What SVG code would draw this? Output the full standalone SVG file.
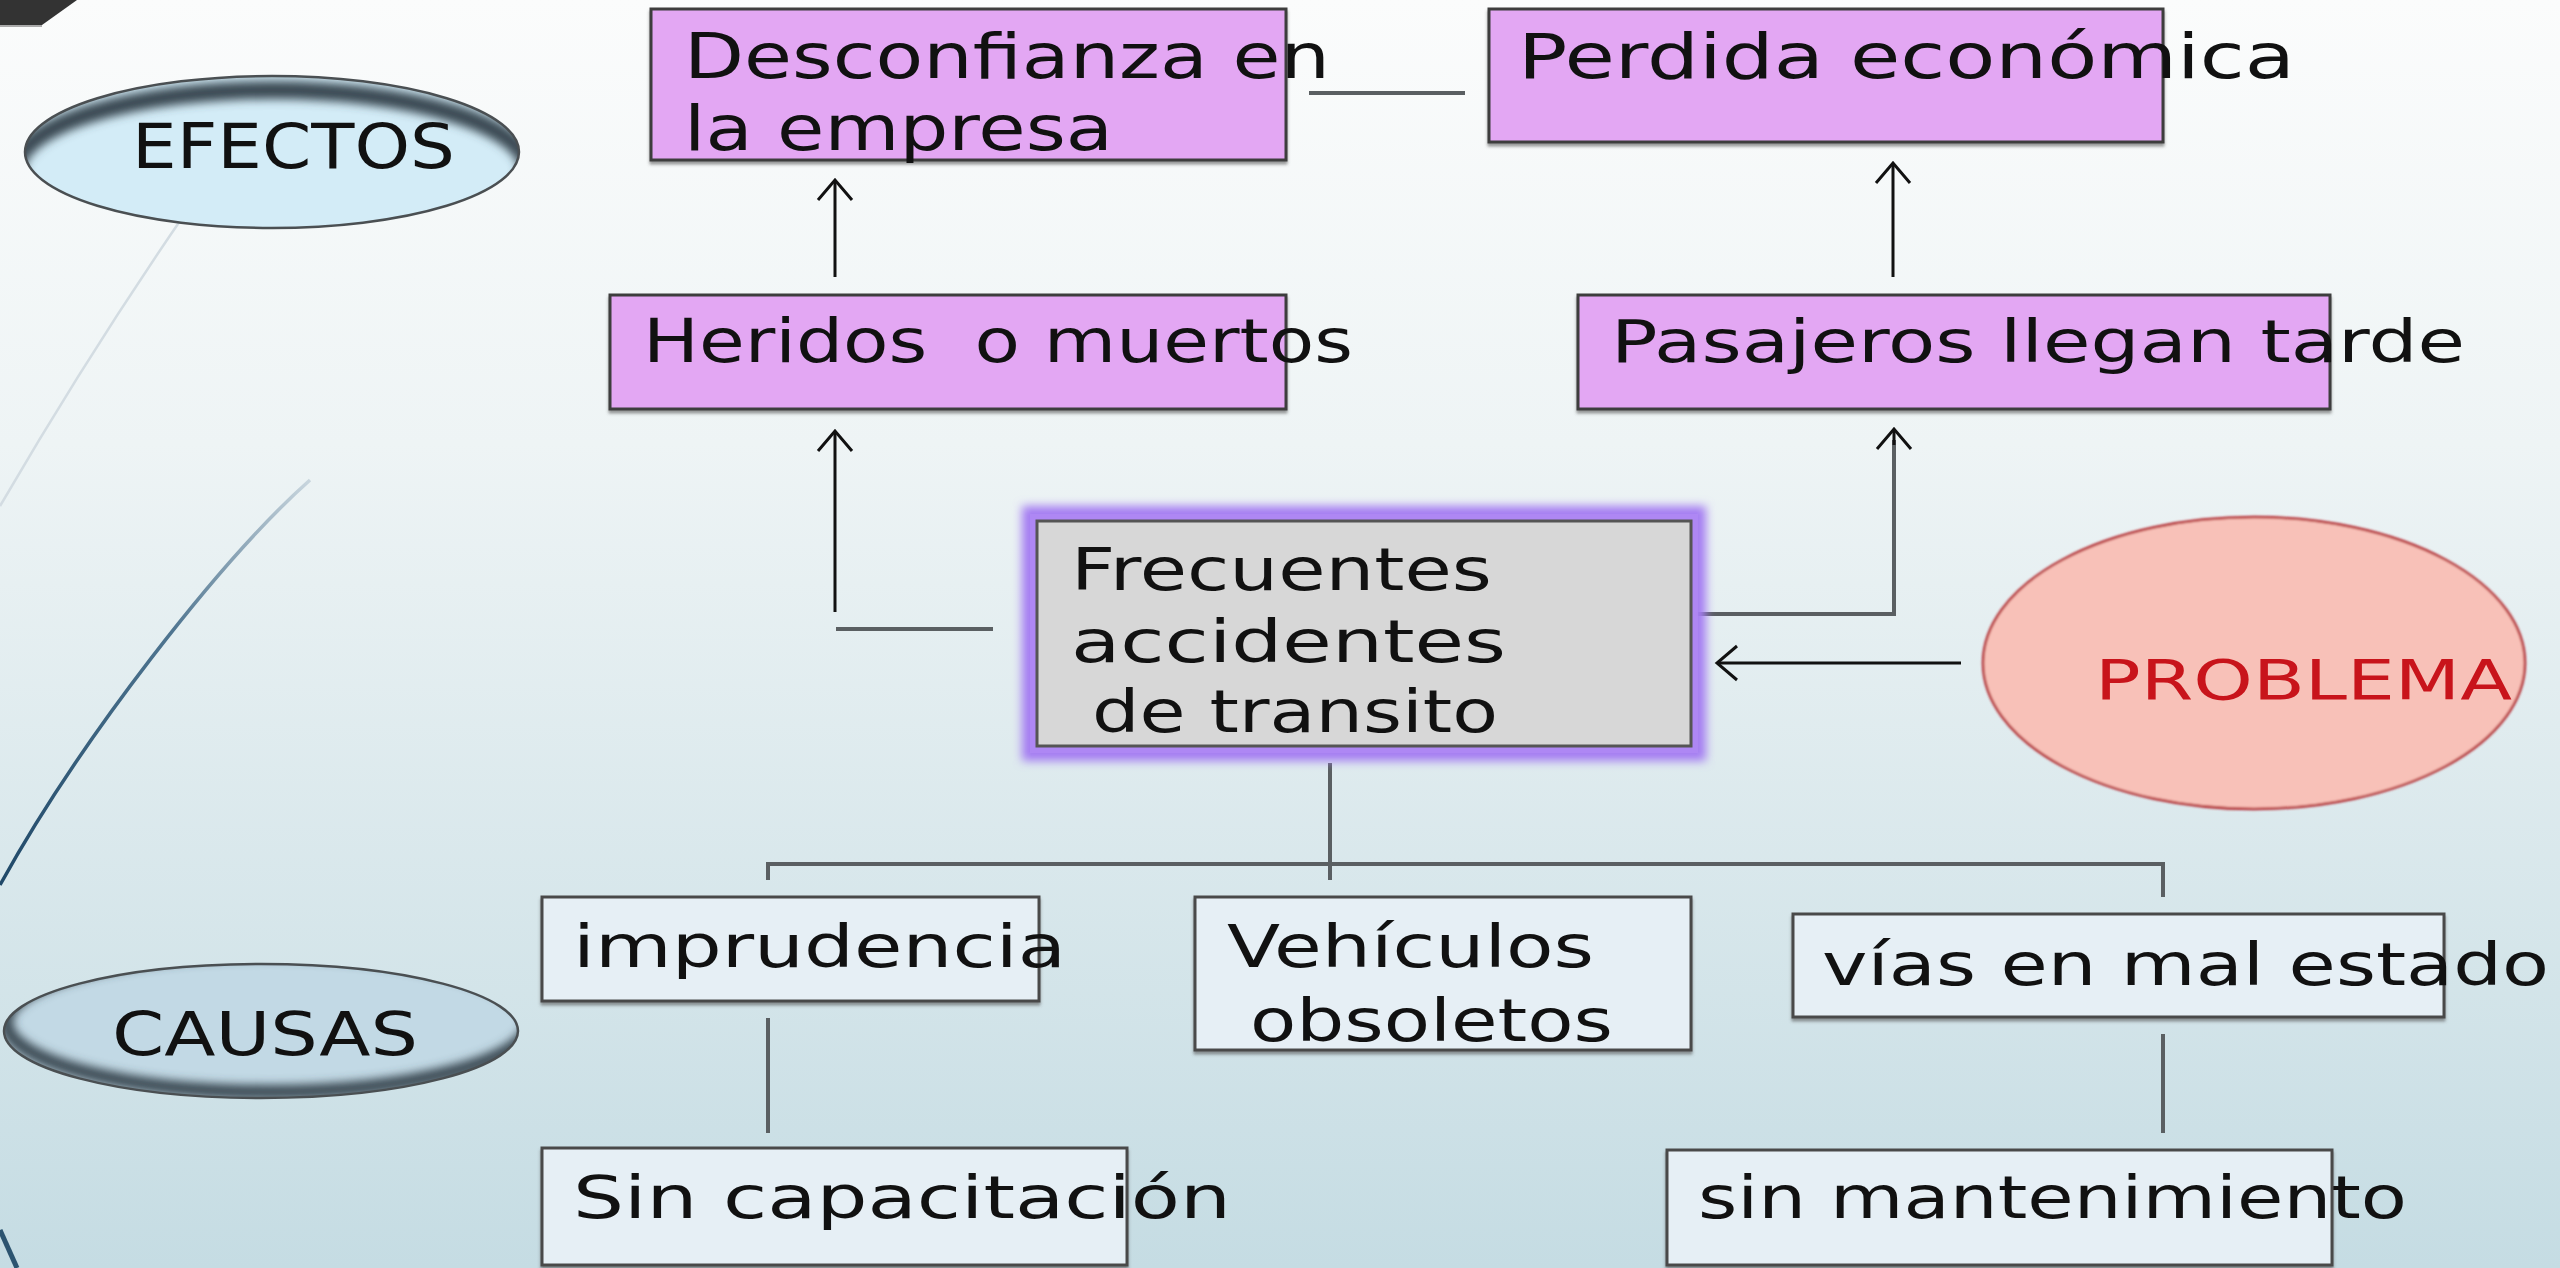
<svg xmlns="http://www.w3.org/2000/svg" width="2560" height="1268" viewBox="0 0 2560 1268">
<defs>
  <linearGradient id="bg" x1="0" y1="0" x2="0" y2="1">
    <stop offset="0" stop-color="#fbfcfc"/>
    <stop offset="0.35" stop-color="#eef4f5"/>
    <stop offset="1" stop-color="#c5dce3"/>
  </linearGradient>
  <linearGradient id="arcGrad" gradientUnits="userSpaceOnUse" x1="310" y1="480" x2="0" y2="885">
    <stop offset="0" stop-color="#c9d6de"/>
    <stop offset="0.4" stop-color="#4f7590"/>
    <stop offset="1" stop-color="#1f4868"/>
  </linearGradient>
  <filter id="shadow" x="-5%" y="-10%" width="110%" height="130%">
    <feDropShadow dx="0" dy="3" stdDeviation="1.5" flood-color="#555" flood-opacity="0.6"/>
  </filter>
  <filter id="glow" x="-20%" y="-30%" width="140%" height="160%">
    <feGaussianBlur stdDeviation="5"/>
  </filter>
  <filter id="soft" x="-20%" y="-30%" width="140%" height="160%">
    <feGaussianBlur stdDeviation="5"/>
  </filter>
  <filter id="softEdge" x="-5%" y="-5%" width="110%" height="110%">
    <feGaussianBlur stdDeviation="1.2"/>
  </filter>
  <clipPath id="clipEf"><ellipse cx="272" cy="152" rx="247" ry="76"/></clipPath>
  <clipPath id="clipCa"><ellipse cx="261" cy="1031" rx="257" ry="67"/></clipPath>
  <marker id="arr" markerUnits="userSpaceOnUse" markerWidth="44" markerHeight="44" viewBox="-24 -22 28 44" refX="0" refY="0" orient="auto">
    <path d="M-20,-17 L0,0 L-20,17" fill="none" stroke="#111" stroke-width="3" stroke-linejoin="miter"/>
  </marker>
  <style>
    .t { font-family: "DejaVu Sans", "Liberation Sans", sans-serif; fill: #111; }
    .eff { fill: #e3a7f3; stroke: #3c3c3c; stroke-width: 3; }
    .cause { fill: #e6eff5; stroke: #4a4a4a; stroke-width: 3; }
    .ln { fill: none; stroke: #5a5f62; stroke-width: 4; }
    .ar { fill: none; stroke: #111; stroke-width: 3; }
  </style>
</defs>

<rect x="0" y="0" width="2560" height="1268" fill="url(#bg)"/>

<g id="decor">
  <polygon points="0,0 77,0 42,25 0,25" fill="#333"/>
  <line x1="0" y1="26" x2="42" y2="26" stroke="#aaa" stroke-width="2"/>
  <path d="M182,218 Q88,355 0,506" fill="none" stroke="#d3dce2" stroke-width="2.5"/>
  <path d="M310,480 C220,560 80,740 0,885" fill="none" stroke="url(#arcGrad)" stroke-width="3.5"/>
  <path d="M0,1230 Q8,1248 17,1268" fill="none" stroke="#2c5470" stroke-width="5"/>
</g>

<g id="connectors">
  <line class="ln" x1="1309" y1="93" x2="1465" y2="93"/>
  <line class="ar" x1="835" y1="277" x2="835" y2="180" marker-end="url(#arr)"/>
  <line class="ar" x1="1893" y1="277" x2="1893" y2="163" marker-end="url(#arr)"/>
  <line class="ln" x1="993" y1="629" x2="836" y2="629"/>
  <line class="ar" x1="835" y1="612" x2="835" y2="431" marker-end="url(#arr)"/>
  <polyline class="ln" points="1692,614 1894,614 1894,440"/>
  <line class="ar" x1="1894" y1="445" x2="1894" y2="429" marker-end="url(#arr)"/>
  <line class="ar" x1="1961" y1="663" x2="1717" y2="663" marker-end="url(#arr)"/>
  <line class="ln" x1="1330" y1="763" x2="1330" y2="880" stroke-width="3"/>
  <polyline class="ln" points="768,880 768,864 2163,864 2163,897"/>
  <line class="ln" x1="768" y1="1018" x2="768" y2="1133" stroke-width="3.5"/>
  <line class="ln" x1="2163" y1="1034" x2="2163" y2="1133" stroke-width="3.5"/>
</g>

<g id="efectos">
  <ellipse cx="272" cy="152" rx="247" ry="76" fill="#d3ecf7"/>
  <g clip-path="url(#clipEf)">
    <ellipse cx="272" cy="170" rx="256" ry="80" fill="none" stroke="#3a4a52" stroke-width="18" filter="url(#soft)"/>
  </g>
  <ellipse cx="272" cy="152" rx="247" ry="76" fill="none" stroke="#4a4f52" stroke-width="2.5"/>
  <text class="t" x="132" y="168" font-size="62" textLength="323" lengthAdjust="spacingAndGlyphs">EFECTOS</text>
</g>

<g id="causas">
  <ellipse cx="261" cy="1031" rx="257" ry="67" fill="#c2d9e5"/>
  <g clip-path="url(#clipCa)">
    <ellipse cx="268" cy="1022" rx="262" ry="70" fill="none" stroke="#3a4a52" stroke-width="14" filter="url(#soft)"/>
  </g>
  <ellipse cx="261" cy="1031" rx="257" ry="67" fill="none" stroke="#4a4f52" stroke-width="2.5"/>
  <text class="t" x="112" y="1055" font-size="60" textLength="306" lengthAdjust="spacingAndGlyphs">CAUSAS</text>
</g>

<g id="desconfianza">
  <rect class="eff" x="651" y="9" width="635" height="151" filter="url(#shadow)"/>
  <text class="t" x="684" y="78" font-size="62" textLength="646" lengthAdjust="spacingAndGlyphs">Desconfianza en</text>
  <text class="t" x="684" y="150" font-size="62" textLength="429" lengthAdjust="spacingAndGlyphs">la empresa</text>
</g>

<g id="perdida">
  <rect class="eff" x="1489" y="9" width="674" height="133" filter="url(#shadow)"/>
  <text class="t" x="1518" y="78" font-size="62" textLength="777" lengthAdjust="spacingAndGlyphs">Perdida económica</text>
</g>

<g id="heridos">
  <rect class="eff" x="610" y="295" width="676" height="114" filter="url(#shadow)"/>
  <text class="t" x="643" y="362" font-size="60" textLength="710" lengthAdjust="spacingAndGlyphs" xml:space="preserve">Heridos  o muertos</text>
</g>

<g id="pasajeros">
  <rect class="eff" x="1578" y="295" width="752" height="114" filter="url(#shadow)"/>
  <text class="t" x="1611" y="362" font-size="58" textLength="854" lengthAdjust="spacingAndGlyphs">Pasajeros llegan tarde</text>
</g>

<g id="frecuentes">
  <rect x="1037" y="521" width="654" height="225" fill="none" stroke="#a47cf2" stroke-width="30" filter="url(#glow)"/>
  <rect x="1037" y="521" width="654" height="225" fill="none" stroke="#b08af4" stroke-width="14" opacity="0.8"/>
  <rect x="1037" y="521" width="654" height="225" fill="#d7d7d7" stroke="#555" stroke-width="3"/>
  <text class="t" x="1071" y="590" font-size="58" textLength="421" lengthAdjust="spacingAndGlyphs">Frecuentes</text>
  <text class="t" x="1071" y="662" font-size="58" textLength="435" lengthAdjust="spacingAndGlyphs">accidentes</text>
  <text class="t" x="1092" y="732" font-size="58" textLength="406" lengthAdjust="spacingAndGlyphs">de transito</text>
</g>

<g id="problema">
  <ellipse cx="2254" cy="663" rx="271" ry="146" fill="#f8c1b8" stroke="#b52c30" stroke-width="2.5" filter="url(#softEdge)"/>
  <text x="2095" y="699" font-family="DejaVu Sans, Liberation Sans, sans-serif" font-size="56" fill="#c8141b" textLength="417" lengthAdjust="spacingAndGlyphs">PROBLEMA</text>
</g>

<g id="imprudencia">
  <rect class="cause" x="542" y="897" width="497" height="104" filter="url(#shadow)"/>
  <text class="t" x="573" y="967" font-size="58" textLength="493" lengthAdjust="spacingAndGlyphs">imprudencia</text>
</g>

<g id="vehiculos">
  <rect class="cause" x="1195" y="897" width="496" height="153" filter="url(#shadow)"/>
  <text class="t" x="1227" y="967" font-size="58" textLength="367" lengthAdjust="spacingAndGlyphs">Vehículos</text>
  <text class="t" x="1250" y="1041" font-size="58" textLength="363" lengthAdjust="spacingAndGlyphs">obsoletos</text>
</g>

<g id="vias">
  <rect class="cause" x="1793" y="914" width="651" height="103" filter="url(#shadow)"/>
  <text class="t" x="1822" y="985" font-size="58" textLength="727" lengthAdjust="spacingAndGlyphs">vías en mal estado</text>
</g>

<g id="sincapacitacion">
  <rect class="cause" x="542" y="1148" width="585" height="117" filter="url(#shadow)"/>
  <text class="t" x="573" y="1218" font-size="58" textLength="658" lengthAdjust="spacingAndGlyphs">Sin capacitación</text>
</g>

<g id="sinmantenimiento">
  <rect class="cause" x="1667" y="1150" width="665" height="115" filter="url(#shadow)"/>
  <text class="t" x="1698" y="1218" font-size="58" textLength="709" lengthAdjust="spacingAndGlyphs">sin mantenimiento</text>
</g>
</svg>
